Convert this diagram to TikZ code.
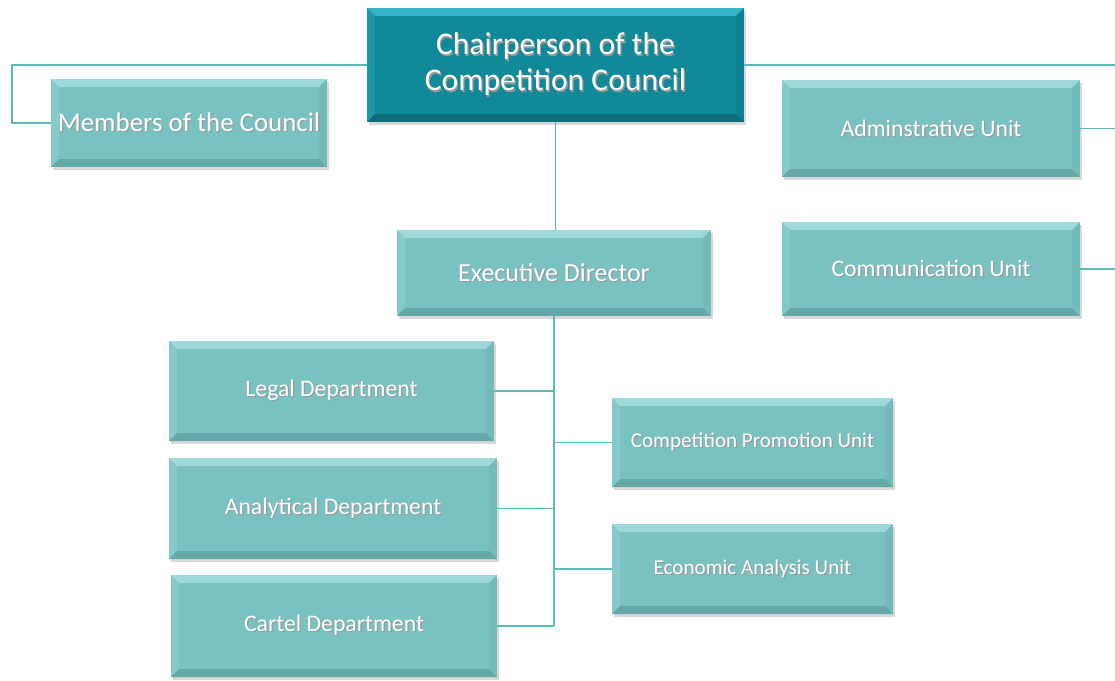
\documentclass[tikz,border=0pt]{standalone}
\usepackage{fontspec}
\setmainfont{Carlito}
\usetikzlibrary{positioning,shadows}
\definecolor{ChairTeal}{RGB}{17,137,153}
\definecolor{ChairTop}{RGB}{50,180,198}
\definecolor{ChairBottom}{RGB}{12,108,121}
\definecolor{UnitTeal}{RGB}{122,194,194}
\definecolor{UnitTop}{RGB}{158,216,216}
\definecolor{UnitBottom}{RGB}{100,168,168}
\definecolor{LinkTeal}{RGB}{88,186,186}
% light text with a soft dark shadow under it
\newcommand{\emboss}[1]{\leavevmode\rlap{\kern0.7pt\raisebox{-0.7pt}{\textcolor{black!40}{#1}}}#1}

\tikzset{
  bevel/.style 2 args={path picture={
    \fill[#1] (path picture bounding box.north west) -- (path picture bounding box.north east)
      -- ([shift={(-4.5pt,-4.5pt)}]path picture bounding box.north east)
      -- ([shift={(4.5pt,-4.5pt)}]path picture bounding box.north west) -- cycle;
    \fill[#1,opacity=0.35] (path picture bounding box.north west) -- ([shift={(4.5pt,-4.5pt)}]path picture bounding box.north west)
      -- ([shift={(4.5pt,4.5pt)}]path picture bounding box.south west) -- (path picture bounding box.south west) -- cycle;
    \fill[#2,opacity=0.3] (path picture bounding box.north east) -- ([shift={(-4.5pt,-4.5pt)}]path picture bounding box.north east)
      -- ([shift={(-4.5pt,4.5pt)}]path picture bounding box.south east) -- (path picture bounding box.south east) -- cycle;
    \fill[#2] (path picture bounding box.south west) -- (path picture bounding box.south east)
      -- ([shift={(-4.5pt,4.5pt)}]path picture bounding box.south east)
      -- ([shift={(4.5pt,4.5pt)}]path picture bounding box.south west) -- cycle;
  }},
  unitbox/.style={fill=UnitTeal,text=white,align=center,inner sep=0pt,
    bevel={UnitTop}{UnitBottom},
    drop shadow={opacity=0.3,shadow xshift=1pt,shadow yshift=-1.5pt},
    font=\fontsize{13.5}{16}\selectfont},
  chairbox/.style={unitbox,fill=ChairTeal,bevel={ChairTop}{ChairBottom},
    font=\fontsize{18}{20.5}\selectfont},
  link/.style={draw=LinkTeal,line width=1.1pt},
}

\begin{document}
\begin{tikzpicture}[x=0.02cm,y=-0.02cm]
\clip (0,0) rectangle (1115,680);
\fill[white] (0,0) rectangle (1115,680);

% council level
\node[chairbox,minimum width=7.54cm,minimum height=2.28cm] (chair) at (555.5,65) {\emboss{Chairperson of the}\\\emboss{Competition Council}};
\node[unitbox,minimum width=5.52cm,minimum height=1.76cm,font=\fontsize{15.3}{18}\selectfont] (members) at (189,123) {\emboss{Members of the Council}};
\node[unitbox,minimum width=5.96cm,minimum height=1.94cm] (admin) at (931,128.5) {\emboss{Adminstrative Unit}};
\node[unitbox,minimum width=5.96cm,minimum height=1.88cm] (comm) at (931,269) {\emboss{Communication Unit}};
\node[unitbox,minimum width=6.28cm,minimum height=1.72cm,font=\fontsize{14.8}{17}\selectfont] (exec) at (554,273) {\emboss{Executive Director}};

% departments and units under the director
\node[unitbox,minimum width=6.5cm,minimum height=2.0cm] (legal) at (331.5,391) {\emboss{Legal Department}};
\node[unitbox,minimum width=6.56cm,minimum height=2.02cm] (analytical) at (333,508.5) {\emboss{Analytical Department}};
\node[unitbox,minimum width=6.52cm,minimum height=2.04cm] (cartel) at (334,626) {\emboss{Cartel Department}};
\node[unitbox,minimum width=5.62cm,minimum height=1.78cm,font=\fontsize{12}{14}\selectfont] (promo) at (752.5,442.5) {\emboss{Competition Promotion Unit}};
\node[unitbox,minimum width=5.62cm,minimum height=1.8cm,font=\fontsize{12}{14}\selectfont] (econ) at (752.5,569) {\emboss{Economic Analysis Unit}};

% connectors
\coordinate (rail) at (1118,65);
\draw[link] (chair.west) -- ++(-355,0) |- (members.west);
\draw[link] (chair.east) -- (rail) |- (comm.east);
\draw[link] (admin.east) -- (admin.east -| rail);
\draw[link] (chair.south) -- (chair.south |- exec.north);
\draw[link] (exec.south) -- (exec.south |- cartel.east);
\draw[link] (legal.east) -- (legal.east -| exec.south);
\draw[link] (analytical.east) -- (analytical.east -| exec.south);
\draw[link] (cartel.east) -- (cartel.east -| exec.south);
\draw[link] (promo.west) -- (promo.west -| exec.south);
\draw[link] (econ.west) -- (econ.west -| exec.south);
\end{tikzpicture}
\end{document}
